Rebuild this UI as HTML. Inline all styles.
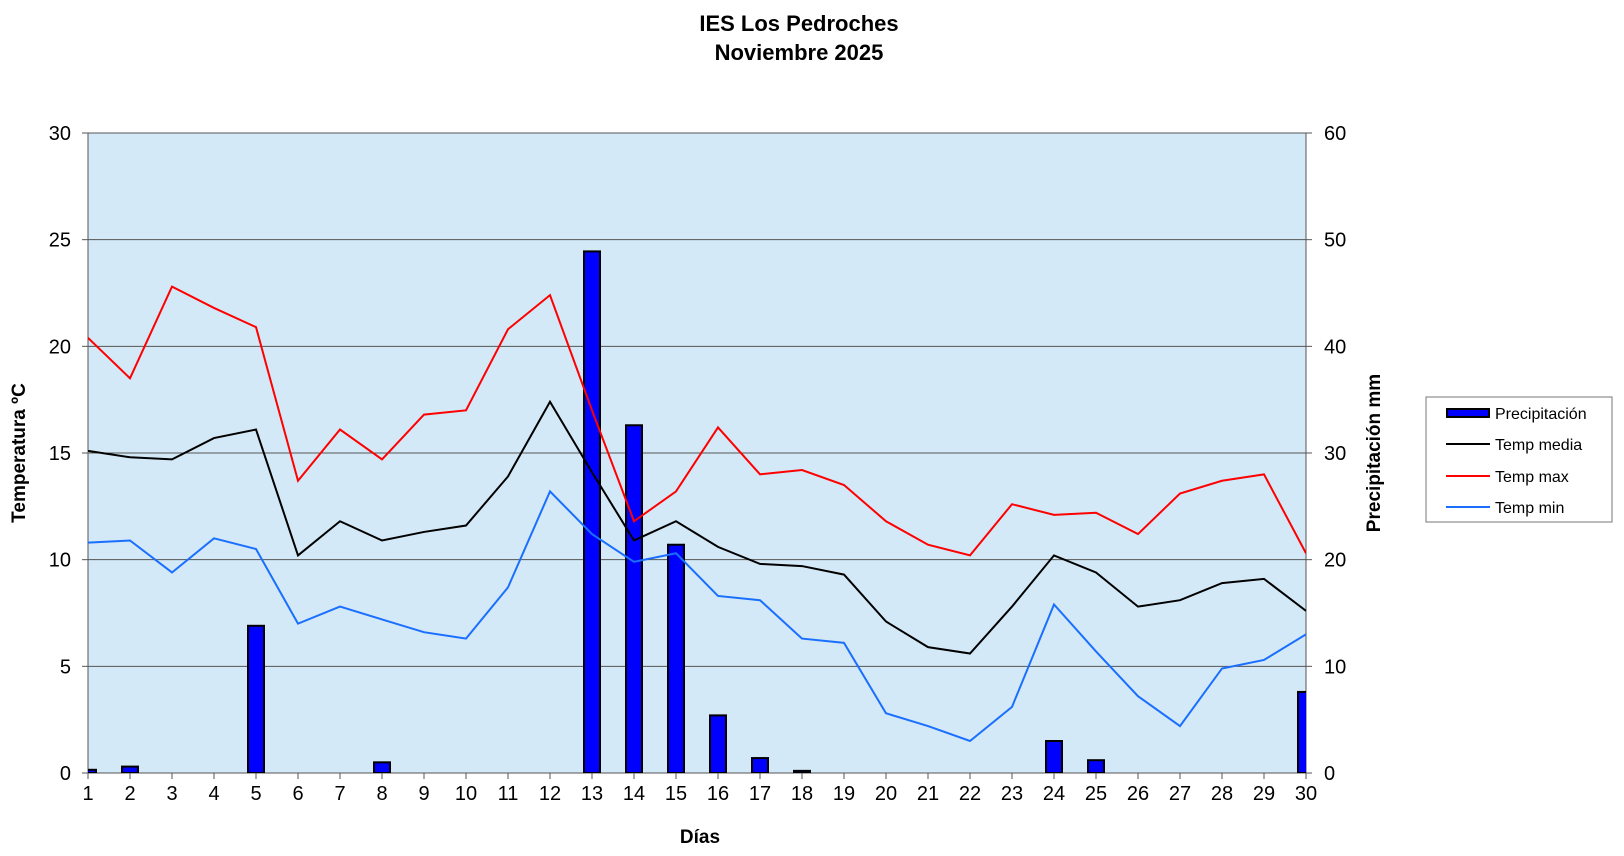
<!DOCTYPE html>
<html><head><meta charset="utf-8"><style>
html,body{margin:0;padding:0;background:#fff;}
svg{display:block;font-family:"Liberation Sans",Arial,sans-serif;}
</style></head><body>
<svg id="c" width="1624" height="856" xmlns="http://www.w3.org/2000/svg"></svg>
<script>
const L=88,R=1306,T=133,B=773,dx=(R-L)/29;
const mx=[20.4,18.5,22.8,21.8,20.9,13.7,16.1,14.7,16.8,17,20.8,22.4,17,11.8,13.2,16.2,14,14.2,13.5,11.8,10.7,10.2,12.6,12.1,12.2,11.2,13.1,13.7,14,10.3];
const md=[15.1,14.8,14.7,15.7,16.1,10.2,11.8,10.9,11.3,11.6,13.9,17.4,14.1,10.9,11.8,10.6,9.8,9.7,9.3,7.1,5.9,5.6,7.8,10.2,9.4,7.8,8.1,8.9,9.1,7.6];
const mn=[10.8,10.9,9.4,11,10.5,7,7.8,7.2,6.6,6.3,8.7,13.2,11.2,9.9,10.3,8.3,8.1,6.3,6.1,2.8,2.2,1.5,3.1,7.9,5.7,3.6,2.2,4.9,5.3,6.5];
const pr=[0.3,0.6,0,0,13.8,0,0,1,0,0,0,0,48.9,32.6,21.4,5.4,1.4,0.2,0,0,0,0,0,3,1.2,0,0,0,0,7.6];
const X=i=>L+i*dx, Y=t=>B-t*(B-T)/30, YP=p=>B-p*(B-T)/60;
let s='';
s+=`<text x="799" y="31" font-size="22" font-weight="bold" text-anchor="middle">IES Los Pedroches</text>`;
s+=`<text x="799" y="60" font-size="22" font-weight="bold" text-anchor="middle">Noviembre 2025</text>`;
s+=`<defs><clipPath id="cp"><rect x="${L}" y="${T}" width="${R-L}" height="${B-T}"/></clipPath></defs>`;
s+=`<rect x="${L}" y="${T}" width="${R-L}" height="${B-T}" fill="#d3e9f7"/>`;
for(let k=0;k<=6;k++){const y=Y(k*5);
 if(k>0)s+=`<line x1="${L}" x2="${R}" y1="${y}" y2="${y}" stroke="#555" stroke-width="1"/>`;
 s+=`<line x1="${L-6}" x2="${L}" y1="${y}" y2="${y}" stroke="#555"/>`;
 s+=`<line x1="${R}" x2="${R+6}" y1="${y}" y2="${y}" stroke="#555"/>`;
 s+=`<text x="71" y="${y+7}" font-size="20" text-anchor="end">${k*5}</text>`;
 s+=`<text x="1324" y="${y+7}" font-size="20">${k*10}</text>`;}
s+=`<line x1="${L}" x2="${L}" y1="${T}" y2="${B}" stroke="#555"/><line x1="${R}" x2="${R}" y1="${T}" y2="${B}" stroke="#555"/><line x1="${L}" x2="${R}" y1="${B}" y2="${B}" stroke="#555"/>`;
for(let i=0;i<30;i++){s+=`<line x1="${X(i)}" x2="${X(i)}" y1="${B}" y2="${B+6}" stroke="#555"/>`;
 s+=`<text x="${X(i)}" y="${B+27}" font-size="20" text-anchor="middle">${i+1}</text>`;}
s+=`<g clip-path="url(#cp)">`;
pr.forEach((p,i)=>{if(p>0){const y=YP(p);s+=`<rect x="${X(i)-8}" y="${y}" width="16" height="${B-y}" fill="#0000ff" stroke="#000" stroke-width="2"/>`;}});
const pl=(a,c)=>`<polyline fill="none" stroke="${c}" stroke-width="2" points="${a.map((t,i)=>X(i)+','+Y(t)).join(' ')}"/>`;
s+=pl(mn,'#1a6fff')+pl(mx,'#ff0000')+pl(md,'#000')+`</g>`;
s+=`<text transform="translate(25,${453}) rotate(-90)" font-size="19" font-weight="bold" text-anchor="middle">Temperatura ºC</text>`;
s+=`<text transform="translate(1380,${453}) rotate(-90)" font-size="19" font-weight="bold" text-anchor="middle">Precipitación mm</text>`;
s+=`<text x="700" y="843" font-size="19" font-weight="bold" text-anchor="middle">Días</text>`;
s+=`<rect x="1426" y="397" width="186" height="125" fill="#fff" stroke="#777"/>`;
s+=`<rect x="1447" y="409" width="42" height="8" fill="#0000ff" stroke="#000" stroke-width="2"/>`;
[['#000','Temp media',444],['#ff0000','Temp max',476],['#1a6fff','Temp min',507]].forEach(([c,t,y])=>{s+=`<line x1="1446" x2="1490" y1="${y}" y2="${y}" stroke="${c}" stroke-width="2"/>`;});
[['Precipitación',413],['Temp media',444],['Temp max',476],['Temp min',507]].forEach(([t,y])=>{s+=`<text x="1495" y="${y+6}" font-size="16">${t}</text>`;});
document.getElementById('c').innerHTML=s;
</script>
</body></html>
